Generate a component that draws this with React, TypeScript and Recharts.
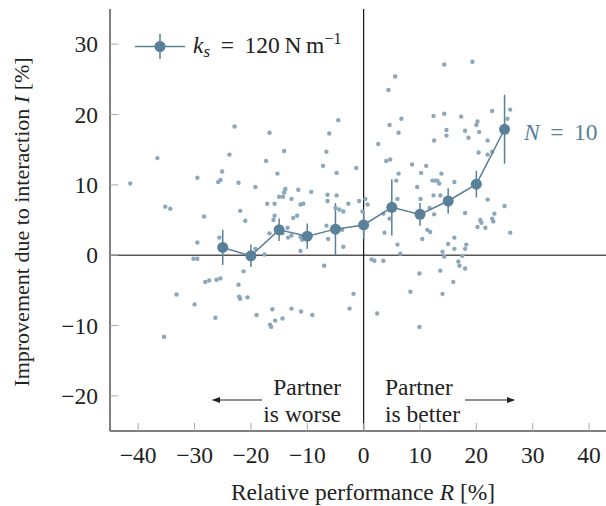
import { ReferenceLine, Scatter, ScatterChart, XAxis, YAxis, ErrorBar } from "recharts";

// individual trials: relative performance R [%] and improvement I [%]
const trialR = [
  -41.4, -36.6, -35.2, -34.3, -29.5, -28.3, -25.8, -25.4, -25.1, -23.8, -22.9, -22.2, -21.9, -21.0, -19.2,
  -17.3, -16.7, -17.1, -15.8, -15.8, -16.0, -15.3, -15.0, -14.3, -14.1, -13.9, -14.1, -12.8, -12.5, -11.8,
  -11.6, -11.2, -10.7, -9.3, -7.2, -6.6, -6.4, -6.4, -6.1, -4.8, -4.8, -5.0, -4.3, -3.6, -4.5,
  -2.7, -1.3, -0.8, 0.3, 0.7, -0.2, -29.5, -25.6, -30.2, -29.5, -19.2, -17.6, -16.7, -14.4, -13.5,
  -13.4, -12.8, -11.2, -10.9, -11.2, -6.6, -6.3, -3.8, -3.6, -21.3, -22.2, -28.1, -27.4, -26.1, -25.4,
  -33.2, -22.1, -21.9, -20.6, -30.0, -26.3, -19.0, -16.2, -12.8, -11.1, -9.1, -14.4, -15.7, -16.6, -16.4,
  -35.4, -7.0, -2.5, -1.8,
  14.3, 19.3, 5.6, 4.4, 6.7, 4.6, 6.2, 2.6, 4.0, 4.7, 6.2, 5.8, 12.4, 14.3, 17.3,
  22.8, 26.0, 25.5, 20.2, 20.0, 14.7, 14.7, 18.0, 20.5, 18.6, 12.5, 22.0, 20.4, 22.0, 22.8,
  8.6, 11.1, 10.2, 13.8, 12.2, 12.7, 13.1, 13.4, 16.1, 9.5, 10.1, 12.4, 13.6, 22.0, 25.0,
  11.7, 12.5, 18.0, 20.7, 20.9, 20.2, 21.6, 22.8, 23.2, 23.0, 26.0, 11.3, 11.8, 10.4, 16.1,
  15.0, 16.1, 18.2, 18.0, 14.0, 14.3, 17.5, 16.8, 17.0, 18.0, 13.6, 9.9, 15.9, 8.3, 14.0,
  9.9, 3.7, 4.6, 6.0, 6.5, 1.4, 1.9, 3.5, 2.4, 3.5, 6.0,
];
const trialI = [
  10.2, 13.8, 6.9, 6.6, 11.0, 5.5, 10.4, 10.7, 11.9, 14.3, 18.3, 10.3, 6.3, 4.9, 9.7,
  13.4, 17.4, 7.3, 7.3, 5.6, 5.0, 11.6, 8.3, 8.3, 14.8, 9.4, 8.9, 8.0, 5.3, 5.6,
  9.3, 7.2, 7.3, 9.0, 12.7, 14.7, 8.6, 7.7, 17.3, 11.7, 8.5, 6.7, 6.5, 6.2, 19.2,
  7.3, 12.4, 7.7, 8.0, 7.2, 6.2, 1.8, 2.5, -0.5, -0.5, 0.9, 0.1, 3.1, 3.1, 3.9,
  2.5, 2.8, 2.6, 2.2, 0.6, 4.2, 2.3, 3.6, 1.2, -2.3, -4.2, -3.8, -3.6, -3.5, -3.3,
  -5.6, -5.9, -6.2, -6.0, -7.0, -8.9, -8.5, -7.7, -7.6, -8.0, -8.5, -9.0, -9.3, -9.9, -10.2,
  -11.6, -1.5, -7.6, -5.5,
  27.1, 27.5, 25.4, 23.5, 19.4, 18.5, 17.4, 15.8, 13.4, 13.6, 11.6, 10.6, 19.8, 20.1, 19.7,
  20.5, 20.7, 19.4, 19.0, 18.5, 17.8, 17.0, 17.7, 17.5, 16.7, 16.3, 16.3, 14.6, 14.3, 14.7,
  12.9, 12.7, 11.7, 11.6, 10.6, 10.6, 10.6, 10.2, 10.4, 9.7, 8.0, 8.5, 8.5, 7.9, 7.0,
  6.7, 5.8, 6.0, 5.0, 4.6, 4.0, 3.9, 5.2, 5.9, 4.8, 3.2, 3.6, 3.3, 2.3, 2.5,
  1.6, 0.9, 1.5, 0.9, 0.5, -0.2, -0.1, -0.9, -1.5, -1.9, -2.2, -2.6, -3.8, -5.2, -5.5,
  -10.2, 3.2, 5.2, 1.5, 0.2, -0.6, -0.8, -0.8, -8.3, 5.9, 8.0,
];

// binned means with standard error, N = 10 per bin
const binR = [-25, -20, -15, -10, -5, 0, 5, 10, 15, 20, 25];
const binI = [1.1, -0.1, 3.6, 2.7, 3.7, 4.3, 6.8, 5.8, 7.7, 10.1, 17.9];
const binErr = [2.5, 1.6, 1.6, 1.8, 3.7, 2.0, 4.0, 1.6, 1.8, 1.9, 4.9];

const xTicks = [-40, -30, -20, -10, 0, 10, 20, 30, 40];
const yTicks = [-20, -10, 0, 10, 20, 30];

const MAIN = "#5a7f99";
const DOT = "#8ba7bb";
const FONT = "Liberation Serif, DejaVu Serif, serif";
const TXT = "#222";
const FS = 23.5;

const trials = trialR.map((r, i) => ({ r, i: trialI[i] }));
const bins = binR.map((r, i) => ({ r, i: binI[i], err: binErr[i] }));

const fmt = (v: number) => (v < 0 ? `\u2212${Math.abs(v)}` : `${v}`);
const serif = { fontFamily: FONT };

const YTick = ({ x, y, payload }: any) => (
  <g>
    <line x1={x} x2={x + 8} y1={y} y2={y} stroke="#aaa" strokeWidth={1} />
    <text x={x - 12} y={y} dy={8} textAnchor="end" style={serif} fontSize={FS} fill={TXT}>
      {fmt(payload.value)}
    </text>
  </g>
);

const XTick = ({ x, y, payload }: any) => (
  <g>
    <line x1={x} x2={x} y1={y - 8} y2={y} stroke="#aaa" strokeWidth={1} />
    <text x={x} y={y} dy={32} textAnchor="middle" style={serif} fontSize={FS} fill={TXT}>
      {fmt(payload.value)}
    </text>
  </g>
);

const Dot = ({ cx, cy }: any) => <circle cx={cx} cy={cy} r={2.2} fill={DOT} />;
const BinDot = ({ cx, cy }: any) => <circle cx={cx} cy={cy} r={5.5} fill={MAIN} />;

export default function App() {
  return (
    <div style={{ position: "absolute", left: 0, top: 0, width: 606, height: 506, background: "#fff" }}>
      <ScatterChart width={606} height={506} margin={{ top: 9, right: 0, bottom: 0, left: 0 }}>
        <XAxis
          type="number"
          dataKey="r"
          domain={[-45, 43]}
          ticks={xTicks}
          height={75}
          tickSize={0}
          tickMargin={0}
          tickLine={false}
          tick={<XTick />}
          axisLine={{ stroke: "#555", strokeWidth: 1.5 }}
          allowDataOverflow
        />
        <YAxis
          type="number"
          dataKey="i"
          domain={[-25, 35]}
          ticks={yTicks}
          width={110}
          tickSize={0}
          tickMargin={0}
          tickLine={false}
          tick={<YTick />}
          axisLine={{ stroke: "#555", strokeWidth: 1.5 }}
          allowDataOverflow
        />
        <ReferenceLine y={0} stroke="#555" strokeWidth={1.5} />
        <ReferenceLine x={0} stroke="#111" strokeWidth={1.2} />
        <Scatter data={trials} shape={<Dot />} isAnimationActive={false} />
        <Scatter
          data={bins}
          shape={<BinDot />}
          line={{ stroke: MAIN, strokeWidth: 1.5 }}
          isAnimationActive={false}
        >
          <ErrorBar dataKey="err" direction="y" width={0} stroke={MAIN} strokeWidth={1.5} />
        </Scatter>
      </ScatterChart>

      <svg
        width={606}
        height={506}
        style={{ position: "absolute", left: 0, top: 0, pointerEvents: "none", fontFamily: FONT }}
      >
        <defs>
          <marker id="arr" markerWidth="8" markerHeight="6" refX="7" refY="3" orient="auto">
            <path d="M0,0 L8,3 L0,6 Z" fill={TXT} />
          </marker>
        </defs>

        {/* legend */}
        <line x1={135} x2={185} y1={46.5} y2={46.5} stroke={MAIN} strokeWidth={1.5} />
        <line x1={160} x2={160} y1={34} y2={59} stroke={MAIN} strokeWidth={1.5} />
        <circle cx={160} cy={46.5} r={5.5} fill={MAIN} />
        <text x={193} y={53} fontSize={FS} fill={TXT}>
          <tspan fontStyle="italic">k</tspan>
          <tspan fontStyle="italic" fontSize={17} dy={4}>s</tspan>
          <tspan dy={-4}>{" \u2009=\u2009 120\u2009N\u2009m"}</tspan>
          <tspan fontSize={16} dy={-9}>{"\u22121"}</tspan>
        </text>

        <text x={524} y={140} fontSize={FS} fill={MAIN}>
          <tspan fontStyle="italic">N</tspan>
          <tspan>{" \u2009=\u2009 10"}</tspan>
        </text>

        {/* direction notes */}
        <text x={341} y={395} textAnchor="end" fontSize={FS} fill={TXT}>Partner</text>
        <text x={341} y={422} textAnchor="end" fontSize={FS} fill={TXT}>is worse</text>
        <line x1={262} x2={213} y1={400} y2={400} stroke={TXT} strokeWidth={1} markerEnd="url(#arr)" />
        <text x={385} y={395} fontSize={FS} fill={TXT}>Partner</text>
        <text x={385} y={422} fontSize={FS} fill={TXT}>is better</text>
        <line x1={465} x2={514} y1={400} y2={400} stroke={TXT} strokeWidth={1} markerEnd="url(#arr)" />

        {/* axis titles */}
        <text x={363} y={500} textAnchor="middle" fontSize={FS} fill={TXT}>
          Relative performance <tspan fontStyle="italic">R</tspan> [%]
        </text>
        <text
          x={0}
          y={0}
          transform="translate(29 222) rotate(-90)"
          textAnchor="middle"
          fontSize={22}
          fill={TXT}
        >
          Improvement due to interaction <tspan fontStyle="italic">I</tspan> [%]
        </text>
      </svg>
    </div>
  );
}
